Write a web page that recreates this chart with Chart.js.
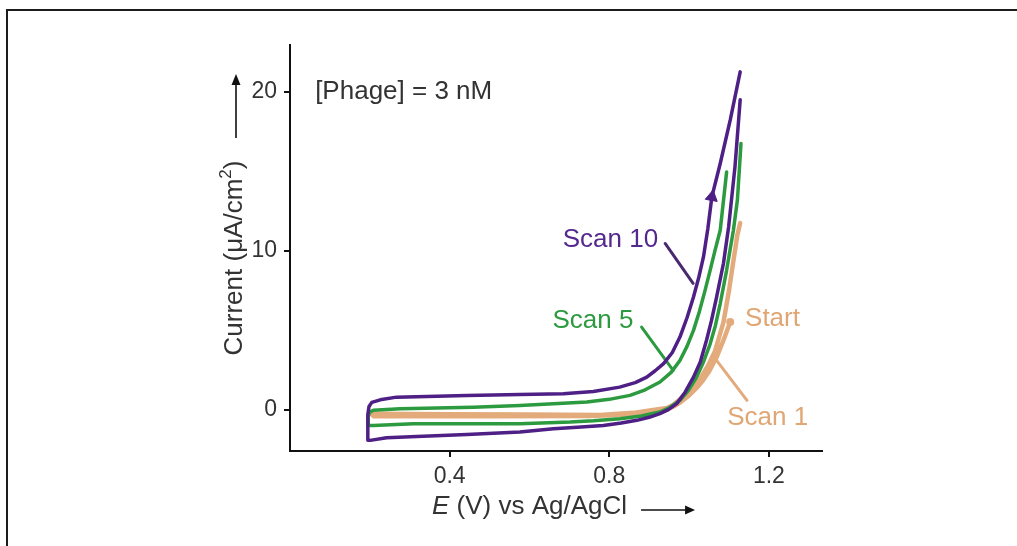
<!DOCTYPE html>
<html>
<head>
<meta charset="utf-8">
<script src="https://cdn.jsdelivr.net/npm/chart.js@4"></script>
<style>
  body { margin: 0; background: #fff; overflow: hidden; }
  #frame { position: absolute; left: 6px; top: 9px; width: 1009px; height: 560px;
           border-top: 2px solid #1c1c1c; border-left: 2px solid #1c1c1c; }
  #chart { position: absolute; left: 0; top: 0; }
</style>
</head>
<body>
<div id="frame"></div>
<canvas id="chart" width="1017" height="546"></canvas>
<script>
// potential (V) and current density (uA/cm2)
const scan10E = [1.128, 1.115, 1.099, 1.086, 1.069, 1.056, 1.044, 1.028, 1.011, 0.990, 0.969, 0.948, 0.927, 0.900, 0.869, 0.830, 0.785, 0.720, 0.660, 0.576, 0.443, 0.318, 0.242, 0.201, 0.195, 0.195, 0.198, 0.205, 0.226, 0.267, 0.443, 0.576, 0.685, 0.760, 0.826, 0.865, 0.894, 0.915, 0.936, 0.958, 0.977, 0.995, 1.011, 1.024, 1.036, 1.047, 1.057, 1.078, 1.103, 1.128];
const scan10I = [19.5, 15.3, 11.5, 9.2, 7.1, 5.6, 4.4, 3.0, 2.05, 1.1, 0.38, 0.0, -0.25, -0.48, -0.67, -0.84, -0.99, -1.1, -1.2, -1.41, -1.56, -1.68, -1.76, -1.93, -1.93, -0.3, 0.2, 0.46, 0.62, 0.79, 0.9, 0.96, 1.01, 1.15, 1.42, 1.7, 2.05, 2.45, 2.9, 3.6, 4.57, 5.8, 7.09, 8.3, 9.61, 11.4, 13.39, 15.49, 18.22, 21.26];

const scan5E = [1.130, 1.121, 1.111, 1.094, 1.078, 1.066, 1.053, 1.036, 1.019, 0.998, 0.977, 0.952, 0.927, 0.880, 0.827, 0.760, 0.702, 0.576, 0.309, 0.209, 0.196, 0.196, 0.199, 0.209, 0.276, 0.459, 0.576, 0.744, 0.800, 0.852, 0.890, 0.927, 0.955, 0.977, 0.995, 1.011, 1.026, 1.040, 1.053, 1.065, 1.078, 1.094];
const scan5I = [16.75, 13.18, 11.29, 8.77, 6.68, 5.3, 4.16, 3.0, 2.05, 1.2, 0.59, 0.15, -0.15, -0.4, -0.57, -0.7, -0.78, -0.88, -0.88, -0.99, -0.99, -0.45, -0.17, -0.04, 0.06, 0.16, 0.27, 0.48, 0.65, 0.9, 1.25, 1.74, 2.35, 3.1, 4.0, 4.99, 6.2, 7.51, 8.8, 10.03, 11.29, 14.96];

const scan1E = [1.103, 1.086, 1.069, 1.050, 1.035, 1.020, 1.000, 0.980, 0.960, 0.940, 0.900, 0.860, 0.750, 0.500, 0.300, 0.210, 0.205, 0.210, 0.400, 0.600, 0.777, 0.860, 0.910, 0.944, 0.960, 0.977, 1.000, 1.028, 1.048, 1.065, 1.086, 1.100, 1.110, 1.121, 1.128];
const scan1I = [5.52, 4.36, 3.3, 2.4, 1.85, 1.4, 0.9, 0.5, 0.18, -0.05, -0.2, -0.3, -0.4, -0.42, -0.42, -0.42, -0.3, -0.25, -0.28, -0.3, -0.33, -0.2, -0.02, 0.1, 0.3, 0.65, 1.2, 1.95, 2.8, 3.7, 5.5, 7.5, 9.2, 11.0, 11.75];

// direction arrow on scan 10, start point of scan 1
const arrowE = [1.057];
const arrowI = [13.39];
const startE = [1.103];
const startI = [5.52];

// label leader lines: [E0, I0, E1, I1]
const leader10 = [0.940, 10.46, 1.010, 7.95];
const leader5 = [0.881, 5.20, 0.960, 2.47];
const leader1 = [1.065, 3.23, 1.145, 0.59];

const noteText = ["Scan 10", "Scan 5", "Start", "Scan 1"];
const noteE = [0.803, 0.759, 1.209, 1.197];
const noteI = [10.66, 5.62, 5.69, -0.52];

const xTicks = [0.4, 0.8, 1.2];
const yTicks = [0, 10, 20];

const PURPLE = "#4e1f85";
const GREEN = "#2c9a3e";
const ORANGE = "#e3ab7b";
const noteColors = ["#55288e", GREEN, "#e0a673", "#e0a673"];
const TEXT = "#333333";
const FONT = '"Liberation Sans", Arial, sans-serif';

function pts(xs, ys) {
  return xs.map((x, i) => ({ x, y: ys[i] }));
}
function seg(a) {
  return [{ x: a[0], y: a[1] }, { x: a[2], y: a[3] }];
}

function lineSet(data, color, width) {
  return { data, showLine: true, borderColor: color, borderWidth: width,
           pointRadius: 0, tension: 0, fill: false,
           borderJoinStyle: "round", borderCapStyle: "round" };
}

const textPlugin = {
  id: "texts",
  afterDraw(chart) {
    const ctx = chart.ctx;
    const sx = chart.scales.x, sy = chart.scales.y;
    ctx.save();
    ctx.textBaseline = "middle";

    // curve labels
    ctx.font = "26px " + FONT;
    ctx.textAlign = "center";
    noteText.forEach((t, i) => {
      ctx.fillStyle = noteColors[i];
      ctx.fillText(t, sx.getPixelForValue(noteE[i]), sy.getPixelForValue(noteI[i]));
    });

    ctx.fillStyle = TEXT;
    ctx.textAlign = "left";
    ctx.fillText("[Phage] = 3 nM", sx.getPixelForValue(0.063), sy.getPixelForValue(19.98));

    // x title with italic E
    ctx.font = "italic 26px " + FONT;
    const tx = 432, ty = 507;
    ctx.fillText("E", tx, ty);
    let w = ctx.measureText("E").width;
    ctx.font = "26px " + FONT;
    ctx.fillText(" (V) vs Ag/AgCl", tx + w, ty);
    w += ctx.measureText(" (V) vs Ag/AgCl").width;

    ctx.strokeStyle = "#111";
    ctx.fillStyle = "#111";
    ctx.lineWidth = 1.6;
    const ax0 = tx + w + 14, ax1 = ax0 + 54;
    ctx.beginPath(); ctx.moveTo(ax0, ty + 3); ctx.lineTo(ax1 - 6, ty + 3); ctx.stroke();
    ctx.beginPath(); ctx.moveTo(ax1, ty + 3); ctx.lineTo(ax1 - 10, ty - 1.5); ctx.lineTo(ax1 - 10, ty + 7.5); ctx.closePath(); ctx.fill();

    // y title, rotated, with superscript 2
    ctx.save();
    ctx.translate(235, 258);
    ctx.rotate(-Math.PI / 2);
    ctx.fillStyle = TEXT;
    ctx.font = "26px " + FONT;
    const p1 = "Current (\u03bcA/cm", p3 = ")";
    const w1 = ctx.measureText(p1).width, w3 = ctx.measureText(p3).width;
    ctx.font = "17px " + FONT;
    const w2 = ctx.measureText("2").width;
    let cx = -(w1 + w2 + w3) / 2;
    ctx.font = "26px " + FONT;
    ctx.fillText(p1, cx, 0);
    ctx.font = "17px " + FONT;
    ctx.fillText("2", cx + w1, -9);
    ctx.font = "26px " + FONT;
    ctx.fillText(p3, cx + w1 + w2, 0);
    ctx.restore();

    ctx.strokeStyle = "#111";
    ctx.fillStyle = "#111";
    ctx.beginPath(); ctx.moveTo(236, 138); ctx.lineTo(236, 84); ctx.stroke();
    ctx.beginPath(); ctx.moveTo(236, 74); ctx.lineTo(231.5, 85); ctx.lineTo(240.5, 85); ctx.closePath(); ctx.fill();
    ctx.restore();
  }
};

const tickFont = { size: 23, family: FONT };

new Chart("chart", {
  type: "scatter",
  data: {
    datasets: [
      { data: pts(arrowE, arrowI), pointStyle: "triangle", rotation: 10,
        pointRadius: 7, backgroundColor: PURPLE, borderColor: PURPLE, borderWidth: 1 },
      { data: pts(startE, startI), pointRadius: 4, backgroundColor: ORANGE, borderWidth: 0 },
      lineSet(pts(scan10E, scan10I), PURPLE, 3.5),
      lineSet(pts(scan5E, scan5I), GREEN, 3.5),
      lineSet(pts(scan1E, scan1I), ORANGE, 4.5),
      lineSet(seg(leader10), "#4a2a6e", 3),
      lineSet(seg(leader5), GREEN, 3),
      lineSet(seg(leader1), ORANGE, 3),
    ],
  },
  options: {
    responsive: false,
    animation: false,
    layout: { padding: { left: 0, top: 45, right: 1017 - 822, bottom: 0 } },
    plugins: {
      legend: { display: false },
      tooltip: { enabled: false },
    },
    scales: {
      x: {
        type: "linear",
        min: 0,
        max: 1.333,
        afterBuildTicks: (s) => { s.ticks = xTicks.map((v) => ({ value: v })); },
        afterFit: (s) => { s.height = 546 - 451; },
        grid: { drawOnChartArea: false, tickLength: 6, color: "#111", lineWidth: 2 },
        border: { color: "#111", width: 2 },
        ticks: { font: tickFont, color: TEXT, padding: 6,
                 callback: (v) => v.toFixed(1) },
      },
      y: {
        type: "linear",
        min: -2.6,
        max: 22.95,
        afterBuildTicks: (s) => { s.ticks = yTicks.map((v) => ({ value: v })); },
        afterFit: (s) => { s.width = 290; },
        grid: { drawOnChartArea: false, tickLength: 6, color: "#111", lineWidth: 2 },
        border: { color: "#111", width: 2 },
        ticks: { font: tickFont, color: TEXT, padding: 7 },
      },
    },
  },
  plugins: [textPlugin],
});
</script>
</body>
</html>
